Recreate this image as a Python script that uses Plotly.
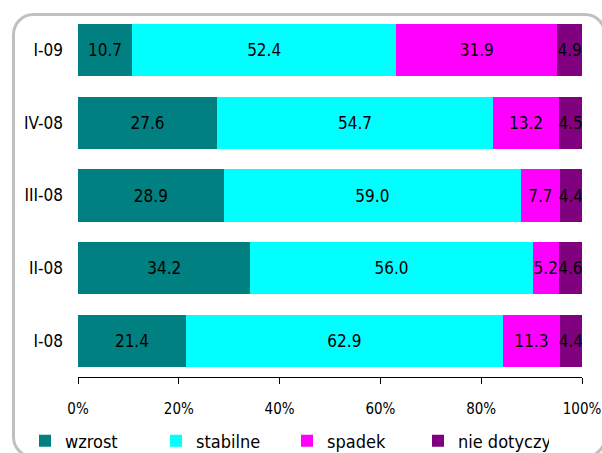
import plotly.graph_objects as go

categories = ["I-08", "II-08", "III-08", "IV-08", "I-09"]
series_names = ["wzrost", "stabilne", "spadek", "nie dotyczy"]
wzrost = [21.4, 34.2, 28.9, 27.6, 10.7]
stabilne = [62.9, 56.0, 59.0, 54.7, 52.4]
spadek = [11.3, 5.2, 7.7, 13.2, 31.9]
nie_dotyczy = [4.4, 4.6, 4.4, 4.5, 4.9]
tick_vals = [0, 20, 40, 60, 80, 100]
tick_text = ["0%", "20%", "40%", "60%", "80%", "100%"]
colors = ["#008080", "#00FFFF", "#FF00FF", "#800080"]

FONT = "DejaVu Sans Condensed, DejaVu Sans, sans-serif"
FS = 17

W, H = 602, 453
L, R, T, B = 78, 20, 14, 76

fig = go.Figure()
for name, vals, col in zip(series_names, [wzrost, stabilne, spadek, nie_dotyczy], colors):
    fig.add_trace(go.Bar(
        y=categories, x=vals, name=name, orientation="h",
        marker=dict(color=col, line=dict(width=0)),
        text=[f"{v:.1f}" for v in vals], texttemplate="%{text}",
        textposition="inside", insidetextanchor="middle", textangle=0,
        constraintext="none",
        textfont=dict(color="black", size=FS, family=FONT),
        hoverinfo="skip",
    ))

# rounded frame (pixel coordinates converted to paper)
pw, ph = W - L - R, H - T - B
def px(x):
    return (x - L) / pw
def py(y):
    return (H - B - y) / ph

x0, x1, y0, y1, r = 13.5, 605, 14.5, 457, 20
k = 0.5523 * r
pts = [
    f"M {px(x0 + r)},{py(y0)}",
    f"L {px(x1 - r)},{py(y0)}",
    f"C {px(x1 - r + k)},{py(y0)} {px(x1)},{py(y0 + r - k)} {px(x1)},{py(y0 + r)}",
    f"L {px(x1)},{py(y1 - r)}",
    f"C {px(x1)},{py(y1 - r + k)} {px(x1 - r + k)},{py(y1)} {px(x1 - r)},{py(y1)}",
    f"L {px(x0 + r)},{py(y1)}",
    f"C {px(x0 + r - k)},{py(y1)} {px(x0)},{py(y1 - r + k)} {px(x0)},{py(y1 - r)}",
    f"L {px(x0)},{py(y0 + r)}",
    f"C {px(x0)},{py(y0 + r - k)} {px(x0 + r - k)},{py(y0)} {px(x0 + r)},{py(y0)} Z",
]
fig.add_shape(type="path", xref="paper", yref="paper", path=" ".join(pts),
              line=dict(color="#c0c0c0", width=3), layer="below")

fig.update_layout(
    width=W, height=H,
    margin=dict(l=L, r=R, t=T, b=B, autoexpand=False),
    barmode="stack", barnorm="percent", bargap=0.28,
    paper_bgcolor="white", plot_bgcolor="white",
    font=dict(family=FONT, size=FS, color="black"),
    uniformtext=dict(minsize=FS, mode="show"),
    showlegend=True,
    legend=dict(orientation="h", x=px(39) - 14 / pw, xanchor="left",
                y=py(441), yanchor="middle", entrywidth=86,
                font=dict(family=FONT, size=18, color="black"),
                bgcolor="rgba(0,0,0,0)", borderwidth=0,
                traceorder="normal", itemclick=False, itemdoubleclick=False),
    xaxis=dict(range=[0, 100], tickmode="array", tickvals=tick_vals, ticktext=tick_text,
               showgrid=False, zeroline=False, showline=True,
               linecolor="black", linewidth=1, ticks="outside",
               ticklen=6, tickcolor="black", fixedrange=True, ticklabelstandoff=12,
               ticklabeloverflow="allow",
               tickfont=dict(family=FONT, size=15, color="black")),
    yaxis=dict(type="category", categoryorder="array", categoryarray=categories,
               range=[-0.5, 4.5], showgrid=False, zeroline=False, showline=False,
               ticks="", ticklabelstandoff=14, fixedrange=True,
               tickfont=dict(family=FONT, size=FS, color="black")),
)

fig.write_html("out.html")
